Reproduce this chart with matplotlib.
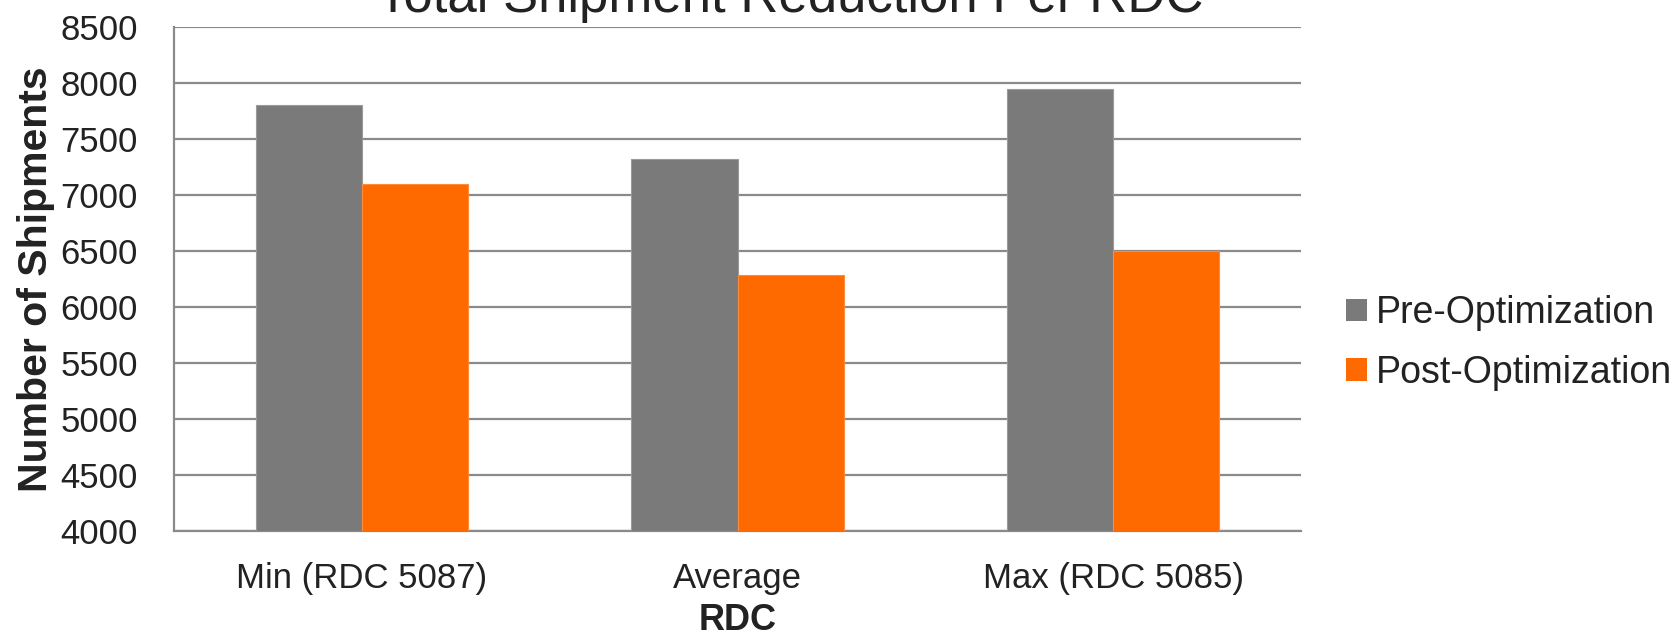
import numpy as np
import matplotlib
matplotlib.use("Agg")
import matplotlib.pyplot as plt
from matplotlib.patches import Patch

plt.rcParams['font.family'] = ['Liberation Sans', 'DejaVu Sans']

# shipment counts per RDC, before and after optimization
rdcs = ["Min (RDC 5087)", "Average", "Max (RDC 5085)"]
pre_opt = [7800, 7320, 7940]
post_opt = [7100, 6280, 6500]
series_names = ["Pre-Optimization", "Post-Optimization"]

grey = "#7a7a7a"
orange = "#ff6a00"
grid_col = "#8a8a8a"
text_col = "#222222"

fig = plt.figure(figsize=(16.76, 6.36), dpi=100)
ax = fig.add_axes([174 / 1676, 1 - 531 / 636, (1301 - 174) / 1676, (531 - 26.7) / 636])

x = np.arange(len(rdcs))
w = 0.283
ax.bar(x - w / 2, pre_opt, w, color=grey, edgecolor="#9a9a9a", linewidth=0.8, zorder=3)
ax.bar(x + w / 2, post_opt, w, color=orange, edgecolor="#ff8a3a", linewidth=0.8, zorder=3)

ax.set_xlim(-0.5, 2.5)
ax.set_ylim(4000, 8500)
ax.set_yticks(np.arange(4000, 8501, 500))
ax.set_xticks(x)
ax.set_xticklabels(rdcs, fontsize=25)
ax.tick_params(axis='y', labelsize=25, length=0, pad=26, colors=text_col)
ax.tick_params(axis='x', length=0, pad=22, colors=text_col)
ax.grid(axis='y', color=grid_col, linewidth=1.6, zorder=0)
ax.set_axisbelow(True)

for s in ["top", "right"]:
    ax.spines[s].set_visible(False)
for s in ["left", "bottom"]:
    ax.spines[s].set_color(grid_col)
    ax.spines[s].set_linewidth(1.6)

ax.set_ylabel("Number of Shipments", fontsize=29.5, fontweight="bold", color=text_col, labelpad=4)
ax.set_xlabel("RDC", fontsize=26, fontweight="bold", color=text_col, labelpad=6)

# title sits partly above the top edge
fig.text(790 / 1676, 1 - 12 / 636, "Total Shipment Reduction Per RDC", fontsize=38,
         color=text_col, ha="center", va="baseline")

handles = [Patch(facecolor=grey), Patch(facecolor=orange)]
fig.legend(handles, series_names, loc="center left", bbox_to_anchor=(1346 / 1676, 1 - 343 / 636),
           frameon=False, fontsize=27, handlelength=0.55, handleheight=0.55,
           handletextpad=0.25, labelspacing=0.63, borderpad=0, borderaxespad=0,
           labelcolor=text_col)

fig.savefig("out.png", dpi=100)
